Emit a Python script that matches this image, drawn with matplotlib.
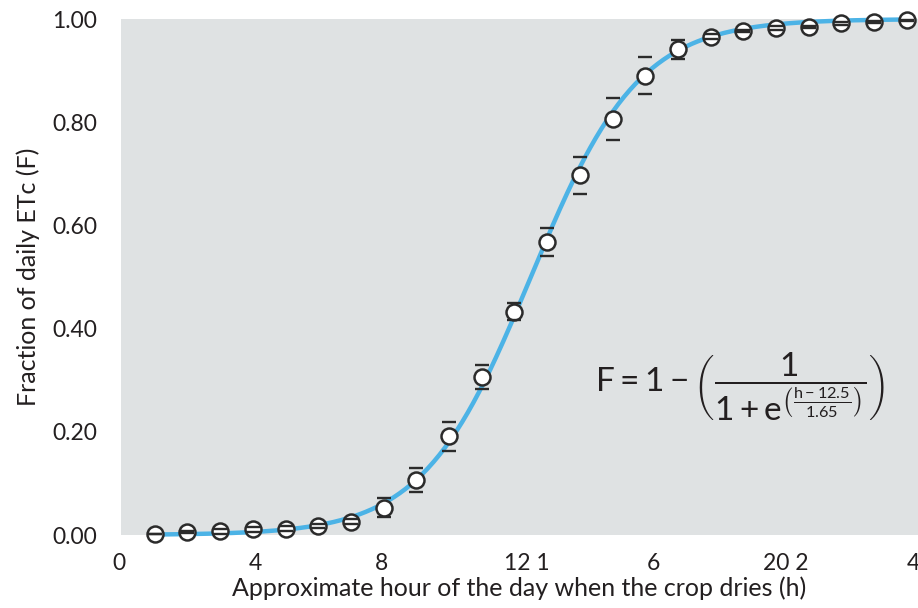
import numpy as np
import matplotlib
matplotlib.use("Agg")
import matplotlib.pyplot as plt
from matplotlib.transforms import ScaledTranslation

plt.rcParams["font.family"] = ["Lato", "DejaVu Sans"]
plt.rcParams["mathtext.fontset"] = "custom"
plt.rcParams["mathtext.rm"] = "Lato"
plt.rcParams["mathtext.it"] = "Lato"
plt.rcParams["mathtext.default"] = "regular"

hours = np.arange(1, 25)
frac = [0.002, 0.005, 0.007, 0.011, 0.012, 0.017, 0.026, 0.053,
        0.106, 0.191, 0.306, 0.433, 0.568, 0.697, 0.806, 0.890,
        0.941, 0.966, 0.977, 0.983, 0.985, 0.992, 0.994, 0.998]
err = [0.000, 0.002, 0.005, 0.005, 0.005, 0.004, 0.005, 0.019,
       0.023, 0.028, 0.024, 0.017, 0.027, 0.036, 0.040, 0.036,
       0.018, 0.004, 0.002, 0.004, 0.002, 0.003, 0.002, 0.001]

# logistic fit shown in the equation
h0, s = 12.5, 1.65

xticks = [0, 4, 8, 12, 16, 20, 24]
xtick_labels = ["0", "4", "8", "12 1", "6", "20 2", "4"]
yticks = [0.0, 0.2, 0.4, 0.6, 0.8, 1.0]

fig = plt.figure(figsize=(9.18, 6.08), dpi=100)
ax = fig.add_axes([121 / 918, 73 / 608, 797 / 918, 516 / 608])
ax.set_facecolor("#dfe2e3")
for sp in ax.spines.values():
    sp.set_visible(False)

hh = np.linspace(1, 24, 400)
ff = 1 - 1 / (1 + np.exp((hh - h0) / s))
ax.plot(hh, ff, color="#4cb3e6", lw=3.2, zorder=2, clip_on=False)

ax.plot(hours, frac, "o", ms=11.5, mfc="white", mec="#2b2b2b", mew=1.8,
        zorder=3, clip_on=False)
ax.errorbar(hours, frac, yerr=err, fmt="none", elinewidth=0, capsize=4.8,
            capthick=1.7, ecolor="#2b2b2b", zorder=4, clip_on=False)

ax.set_xlim(-0.03, 24.34)
ax.set_ylim(0, 1)
ax.set_xticks(xticks)
ax.set_xticklabels(xtick_labels)
ax.set_yticks(yticks)
ax.set_yticklabels([f"{v:.2f}" for v in yticks])
ax.tick_params(length=0, labelsize=16.5, colors="#231f20", pad=13)
ax.tick_params(axis="y", pad=17)

shifts = [-3, 3, -2, 12, 8, 10, 6]
for lab, dx in zip(ax.get_xticklabels(), shifts):
    lab.set_transform(lab.get_transform() + ScaledTranslation(dx / 100, 0, fig.dpi_scale_trans))

ax.set_xlabel("Approximate hour of the day when the crop dries (h)", fontsize=18,
              color="#231f20", labelpad=2)
ax.set_ylabel("Fraction of daily ETc (F)", fontsize=18, color="#231f20", labelpad=9)

ax.text(0.958, 0.288,
        r"$F = 1 - \left(\dfrac{1}{1 + e^{\left(\frac{h - 12.5}{1.65}\right)}}\right)$",
        transform=ax.transAxes, ha="right", va="center", fontsize=24, color="#231f20")

fig.savefig("out.png", dpi=100)
